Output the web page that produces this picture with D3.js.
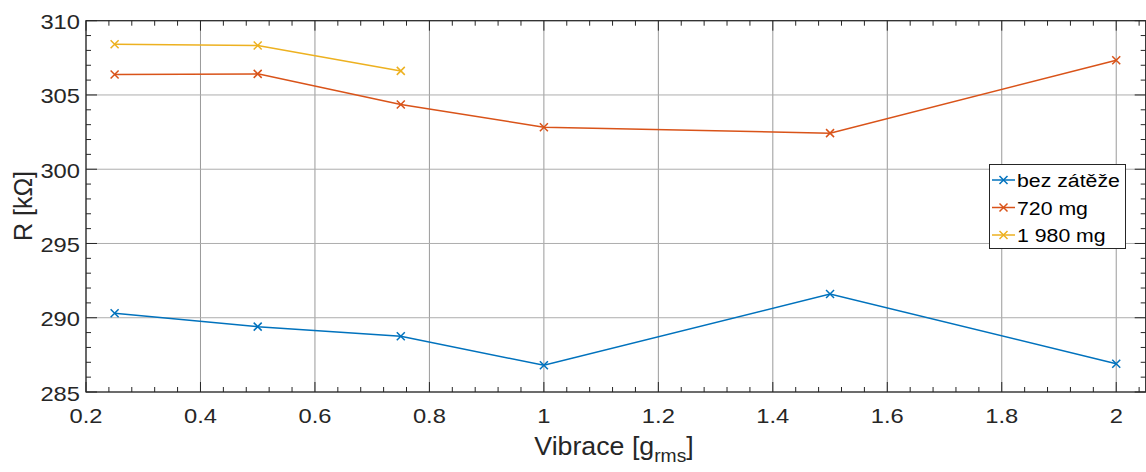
<!DOCTYPE html>
<html><head><meta charset="utf-8">
<script src="https://cdn.jsdelivr.net/npm/d3@7"></script>
<style>body{margin:0;background:#fff}svg{display:block}text{font-family:"Liberation Sans",Arial,Helvetica,sans-serif}</style>
</head><body><svg id="c" width="1146" height="472"></svg>
<script>
const xValues = [0.25, 0.5, 0.75, 1, 1.5, 2];
const bezZateze = [290.3, 289.4, 288.75, 286.8, 291.6, 286.9];
const mg720 = [306.38, 306.42, 304.36, 302.83, 302.43, 307.34];
const mg1980 = [308.42, 308.33, 306.62];
const seriesNames = ["bez zátěže", "720 mg", "1 980 mg"];
const seriesColors = ["#0072BD", "#D95319", "#EDB120"];
const xTicks = [0.2,0.4,0.6,0.8,1,1.2,1.4,1.6,1.8,2];
const yTicks = [285,290,295,300,305,310];

const svg = d3.select("#c");
const L=86, R=1145.7, T=20.7, B=392;
const x = d3.scaleLinear().domain([0.2, 2.0515]).range([L, R]);
const y = d3.scaleLinear().domain([285, 310]).range([B, T]);

const grid = svg.append("g");
xTicks.forEach(v=>grid.append("line").attr("x1",x(v)).attr("x2",x(v)).attr("y1",T).attr("y2",B).attr("stroke","#9a9a9a").attr("stroke-width",1));
yTicks.forEach(v=>grid.append("line").attr("x1",L).attr("x2",R).attr("y1",y(v)).attr("y2",y(v)).attr("stroke","#adadad").attr("stroke-width",1));

// minor ticks
const minorX = d3.range(0.2, 2.06, 0.04).filter(v=>Math.abs(v*5-Math.round(v*5))>1e-6);
const minorY = d3.range(285, 310.01, 1).filter(v=>v%5!==0);
const tg = svg.append("g").attr("stroke","#262626").attr("stroke-width",1);
minorX.forEach(v=>{tg.append("line").attr("x1",x(v)).attr("x2",x(v)).attr("y1",B).attr("y2",B-5);tg.append("line").attr("x1",x(v)).attr("x2",x(v)).attr("y1",T).attr("y2",T+5);});
xTicks.forEach(v=>{tg.append("line").attr("x1",x(v)).attr("x2",x(v)).attr("y1",B).attr("y2",B-10);tg.append("line").attr("x1",x(v)).attr("x2",x(v)).attr("y1",T).attr("y2",T+10);});
minorY.forEach(v=>{tg.append("line").attr("x1",L).attr("x2",L+5).attr("y1",y(v)).attr("y2",y(v));tg.append("line").attr("x1",R).attr("x2",R-5).attr("y1",y(v)).attr("y2",y(v));});
yTicks.forEach(v=>{tg.append("line").attr("x1",L).attr("x2",L+11).attr("y1",y(v)).attr("y2",y(v));tg.append("line").attr("x1",R).attr("x2",R-11).attr("y1",y(v)).attr("y2",y(v));});
svg.append("rect").attr("x",L).attr("y",T).attr("width",R-L).attr("height",B-T).attr("fill","none").attr("stroke","#262626").attr("stroke-width",1.2);

// tick labels
xTicks.forEach(v=>svg.append("text").attr("transform",`translate(${x(v)},${B+31}) scale(1.13,1)`).attr("text-anchor","middle").attr("font-size",21).attr("fill","#262626").text(d3.format("~g")(v)));
yTicks.forEach(v=>svg.append("text").attr("transform",`translate(${L-6},${y(v)+8.5}) scale(1.13,1)`).attr("text-anchor","end").attr("font-size",21).attr("fill","#262626").text(v));

// axis labels
const xl = svg.append("text").attr("transform","translate(614,455) scale(1.07,1)").attr("text-anchor","middle").attr("font-size",25).attr("fill","#262626");
xl.append("tspan").text("Vibrace [g");
xl.append("tspan").attr("font-size",18).attr("dy",7).text("rms");
xl.append("tspan").attr("dy",-7).text("]");
svg.append("text").attr("transform","translate(32,206) rotate(-90)").attr("text-anchor","middle").attr("font-size",25).attr("fill","#262626").text("R [kΩ]");

const data = [bezZateze, mg720, mg1980];
const line = d3.line().x(d=>x(d[0])).y(d=>y(d[1]));
data.forEach((s,i)=>{
  const pts = s.map((v,j)=>[xValues[j], v]);
  svg.append("path").attr("d",line(pts)).attr("fill","none").attr("stroke",seriesColors[i]).attr("stroke-width",1.5);
  pts.forEach(p=>{
    const cx=x(p[0]), cy=y(p[1]), r=4;
    svg.append("path").attr("d",`M${cx-r},${cy-r}L${cx+r},${cy+r}M${cx-r},${cy+r}L${cx+r},${cy-r}`).attr("stroke",seriesColors[i]).attr("stroke-width",1.5);
  });
});

// legend
const lg = svg.append("g");
lg.append("rect").attr("x",989.5).attr("y",164.5).attr("width",136).attr("height",84).attr("fill","#fff").attr("stroke","#262626").attr("stroke-width",1);
seriesNames.forEach((n,i)=>{
  const yy = 180 + i*27.5;
  lg.append("line").attr("x1",992).attr("x2",1015).attr("y1",yy).attr("y2",yy).attr("stroke",seriesColors[i]).attr("stroke-width",1.5);
  const cx=1003.5, r=4;
  lg.append("path").attr("d",`M${cx-r},${yy-r}L${cx+r},${yy+r}M${cx-r},${yy+r}L${cx+r},${yy-r}`).attr("stroke",seriesColors[i]).attr("stroke-width",1.5);
  lg.append("text").attr("transform",`translate(1017,${yy+7}) scale(1.12,1)`).attr("font-size",19).attr("fill","#000").text(n);
});
</script></body></html>
